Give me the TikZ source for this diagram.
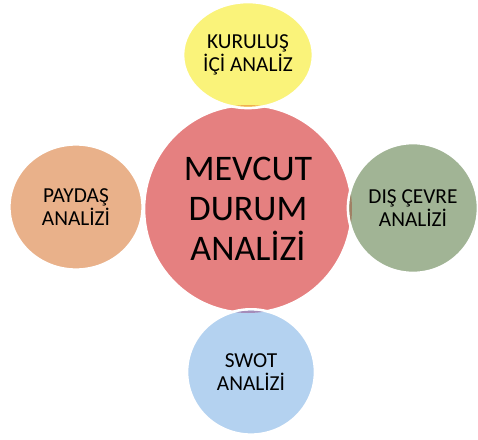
\documentclass[tikz,border=0pt]{standalone}
\usepackage{fontspec}
\setmainfont{Carlito}
\usetikzlibrary{shapes.geometric}

\definecolor{durumred}{RGB}{229,128,128}
\definecolor{kurulusyellow}{RGB}{250,243,122}
\definecolor{paydaspeach}{RGB}{233,177,138}
\definecolor{cevregreen}{RGB}{161,180,149}
\definecolor{swotblue}{RGB}{180,210,240}
\definecolor{kurulusdark}{RGB}{240,175,80}
\definecolor{paydasdark}{RGB}{222,140,110}
\definecolor{cevredark}{RGB}{160,128,100}
\definecolor{swotdark}{RGB}{165,140,185}

\tikzset{
  bubble/.style={ellipse, draw=white, line width=2pt, inner sep=0pt, align=center,
    text=black, font=\fontsize{16}{17.5}\selectfont},
  bigbubble/.style={circle, draw=white, line width=2pt, inner sep=0pt, align=center,
    text=black, font=\fontsize{27}{30}\selectfont}
}

\begin{document}
\begin{tikzpicture}[x=0.75pt,y=-0.75pt]
\useasboundingbox (0,0) rectangle (478,439);

\node[bigbubble, fill=durumred, minimum size=156pt] (durum) at (248,209) {MEVCUT\\DURUM\\ANALİZİ};

\node[bubble, fill=kurulusyellow, minimum width=97.5pt, minimum height=79.5pt] (kurulus) at (248,55) {KURULUŞ\\İÇİ ANALİZ};
\node[bubble, fill=paydaspeach, minimum width=100pt, minimum height=94pt] (paydas) at (76,207) {PAYDAŞ\\ANALİZİ};
\node[bubble, fill=cevregreen, minimum width=97.5pt, minimum height=97.5pt] (cevre) at (413,208) {DIŞ ÇEVRE\\ANALİZİ};
\node[bubble, fill=swotblue, minimum width=96pt, minimum height=94pt] (swot) at (251,372) {SWOT\\ANALİZİ};

\begin{scope}
  \clip (durum.center) circle (78pt);
  \fill[kurulusdark] (kurulus.center) ellipse (47.7pt and 38.7pt);
  \fill[paydasdark] (paydas.center) ellipse (49pt and 46pt);
  \fill[cevredark] (cevre.center) ellipse (47.7pt and 47.7pt);
  \fill[swotdark] (swot.center) ellipse (47pt and 46pt);
\end{scope}

\end{tikzpicture}
\end{document}
